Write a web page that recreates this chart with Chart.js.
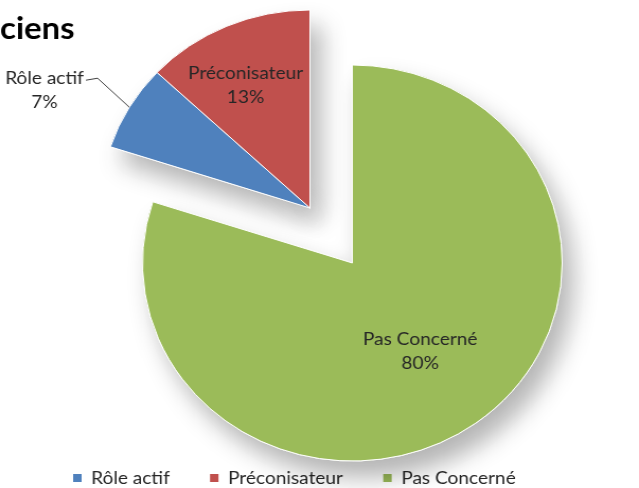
<!DOCTYPE html>
<html>
<head>
<meta charset="utf-8">
<script src="https://cdn.jsdelivr.net/npm/chart.js@4"></script>
<style>
  html, body { margin: 0; padding: 0; background: #fff; overflow: hidden; }
</style>
</head>
<body>
<!-- drawn 603 wide, shown 639 wide -->
<canvas id="pie" width="603" height="497" style="display:block;width:639px;height:497px"></canvas>
<script>
const titleText = "ciens";
const categories = ["Rôle actif", "Préconisateur", "Pas Concerné"];
const shares = [7, 13, 80];
const sliceColors = ["#4f81bd", "#c0504d", "#9bbb59"];
// how far each slice is pulled out from the centre, px
const explode = [0, 0, 68];

// where each value label sits: fraction of the radius (0 = outside with a leader line),
// plus a small turn away from the slice's middle angle, in degrees
const labelRadius = [0, 0.69, 0.55];
const labelTurn = [0, -3, 0];
const lineGap = 24;
const textColor = "#262626";

Chart.defaults.font.family = "Lato";

// move exploded slices along their middle angle
const explodeSlices = {
  id: "explodeSlices",
  afterDatasetsUpdate(chart) {
    const { left, right, top, bottom } = chart.chartArea;
    const cx = (left + right) / 2;
    const cy = (top + bottom) / 2;
    chart.getDatasetMeta(0).data.forEach((arc, i) => {
      const mid = (arc.startAngle + arc.endAngle) / 2;
      arc.x = cx + Math.cos(mid) * explode[i];
      arc.y = cy + Math.sin(mid) * explode[i];
    });
  },
};

// soft drop shadow under the slices
const sliceShadow = {
  id: "sliceShadow",
  beforeDatasetsDraw(chart) {
    const ctx = chart.ctx;
    ctx.save();
    ctx.shadowColor = "rgba(0,0,0,0.30)";
    ctx.shadowBlur = 24;
    ctx.shadowOffsetX = 10;
    ctx.shadowOffsetY = 16;
    chart.getDatasetMeta(0).data.forEach((arc) => arc.draw(ctx));
    ctx.restore();
  },
};

// category + percent labels, and the chart heading
const sliceLabels = {
  id: "sliceLabels",
  afterDatasetsDraw(chart) {
    const ctx = chart.ctx;
    const arcs = chart.getDatasetMeta(0).data;
    ctx.save();
    ctx.font = "18px Lato";
    ctx.fillStyle = textColor;
    ctx.textAlign = "center";
    ctx.textBaseline = "middle";

    arcs.forEach((arc, i) => {
      const { x, y, startAngle, endAngle, outerRadius } = arc;
      const mid = (startAngle + endAngle) / 2;
      const lines = [categories[i], shares[i] + "%"];

      if (labelRadius[i] > 0) {
        const a = mid + (labelTurn[i] * Math.PI) / 180;
        const r = outerRadius * labelRadius[i];
        const lx = x + Math.cos(a) * r;
        const ly = y + Math.sin(a) * r;
        lines.forEach((t, k) => {
          ctx.fillText(t, lx, ly + (k - (lines.length - 1) / 2) * lineGap);
        });
      } else {
        const ex = x + Math.cos(mid) * outerRadius;
        const ey = y + Math.sin(mid) * outerRadius;
        const bx = ex - 30;
        const by = ey - 29;
        const tx = bx - 11;
        ctx.strokeStyle = "#404040";
        ctx.lineWidth = 1;
        ctx.beginPath();
        ctx.moveTo(ex, ey);
        ctx.lineTo(bx, by);
        ctx.lineTo(tx, by + 2);
        ctx.stroke();
        const w = Math.max(...lines.map((t) => ctx.measureText(t).width));
        const lx = tx - 2 - w / 2;
        lines.forEach((t, k) => ctx.fillText(t, lx, by + k * lineGap));
      }
    });

    ctx.font = "bold 31px Lato";
    ctx.fillStyle = "#000";
    ctx.textAlign = "left";
    ctx.textBaseline = "alphabetic";
    ctx.fillText(titleText, 0, 39);
    ctx.restore();
  },
};

new Chart(document.getElementById("pie"), {
  type: "pie",
  data: {
    labels: categories,
    datasets: [
      {
        data: shares,
        backgroundColor: sliceColors,
        borderColor: "#ffffff",
        borderWidth: 1,
      },
    ],
  },
  options: {
    responsive: false,
    animation: false,
    // the last slice starts at twelve o'clock
    rotation: -(shares[0] + shares[1]) * 3.6,
    radius: 198,
    layout: { padding: { left: 31, right: 49, top: 0, bottom: 0 } },
    plugins: {
      tooltip: { enabled: false },
      legend: {
        position: "bottom",
        align: "start",
        // empty title only reserves room above the keys
        title: { display: true, text: "", font: { size: 15, lineHeight: 1 }, padding: 0 },
        labels: {
          font: { size: 18, family: "Lato" },
          color: textColor,
          boxWidth: 8,
          boxHeight: 8,
          padding: 38,
          generateLabels(chart) {
            return Chart.overrides.pie.plugins.legend.labels
              .generateLabels(chart)
              .map((item) => ({ ...item, lineWidth: 0 }));
          },
        },
      },
    },
  },
  plugins: [explodeSlices, sliceShadow, sliceLabels],
});
</script>
</body>
</html>
